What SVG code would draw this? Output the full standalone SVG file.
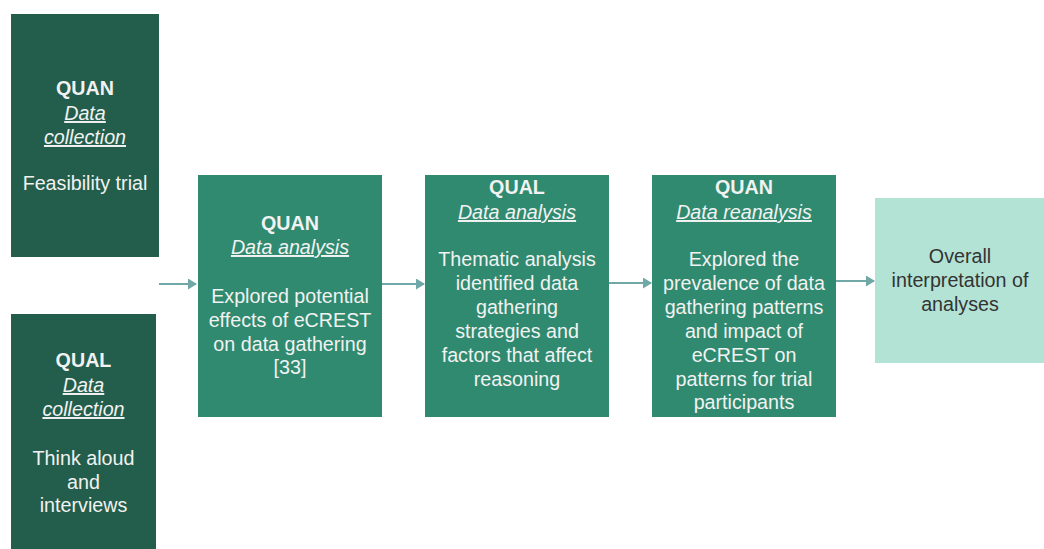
<svg xmlns="http://www.w3.org/2000/svg" width="1044" height="549" viewBox="0 0 1044 549">
<style>
.dark{fill:#225E4B}
.mid{fill:#2F8A6F}
.light{fill:#B3E3D5}
text{font-family:"Liberation Sans",Arial,sans-serif;font-size:19.7px;text-anchor:middle;fill:#F2F2F2}
.b{font-weight:bold}
.u{font-style:italic;text-decoration:underline}
.dk{fill:#333333}
.conn{stroke:#6FA8A6;stroke-width:2;fill:none}
</style>
<defs>
<marker id="ah" markerWidth="9" markerHeight="11" refX="8" refY="5.5" orient="auto" markerUnits="userSpaceOnUse">
<path d="M0,0 L9,5.5 L0,11 Z" fill="#6FA8A6"/>
</marker>
</defs>
<rect width="1044" height="549" fill="#FFFFFF"/>
<g id="connectors">
<line class="conn" x1="159" y1="284" x2="196" y2="284" marker-end="url(#ah)"/>
<line class="conn" x1="382" y1="284" x2="424" y2="284" marker-end="url(#ah)"/>
<line class="conn" x1="609" y1="283" x2="651" y2="283" marker-end="url(#ah)"/>
<line class="conn" x1="836" y1="281" x2="874" y2="281" marker-end="url(#ah)"/>
</g>
<g id="quan-collection">
<rect class="dark" x="11" y="14" width="148" height="243"/>
<text x="85" y="95" class="b">QUAN</text>
<text x="85" y="120" class="u">Data</text>
<text x="85" y="144" class="u">collection</text>
<text x="85" y="190">Feasibility trial</text>
</g>
<g id="qual-collection">
<rect class="dark" x="11" y="314" width="145" height="240"/>
<text x="83.5" y="367" class="b">QUAL</text>
<text x="83.5" y="392" class="u">Data</text>
<text x="83.5" y="416" class="u">collection</text>
<text x="83.5" y="465">Think aloud</text>
<text x="83.5" y="489">and</text>
<text x="83.5" y="512">interviews</text>
</g>
<g id="quan-analysis">
<rect class="mid" x="198" y="175" width="184" height="242"/>
<text x="290" y="230" class="b">QUAN</text>
<text x="290" y="254" class="u">Data analysis</text>
<text x="290" y="303">Explored potential</text>
<text x="290" y="327">effects of eCREST</text>
<text x="290" y="351">on data gathering</text>
<text x="290" y="374">[33]</text>
</g>
<g id="qual-analysis">
<rect class="mid" x="425" y="175" width="184" height="242"/>
<text x="517" y="194" class="b">QUAL</text>
<text x="517" y="219" class="u">Data analysis</text>
<text x="517" y="266">Thematic analysis</text>
<text x="517" y="290">identified data</text>
<text x="517" y="314">gathering</text>
<text x="517" y="338">strategies and</text>
<text x="517" y="362">factors that affect</text>
<text x="517" y="386">reasoning</text>
</g>
<g id="quan-reanalysis">
<rect class="mid" x="652" y="175" width="184" height="242"/>
<text x="744" y="194" class="b">QUAN</text>
<text x="744" y="219" class="u">Data reanalysis</text>
<text x="744" y="266">Explored the</text>
<text x="744" y="290">prevalence of data</text>
<text x="744" y="314">gathering patterns</text>
<text x="744" y="338">and impact of</text>
<text x="744" y="362">eCREST on</text>
<text x="744" y="386">patterns for trial</text>
<text x="744" y="409">participants</text>
</g>
<g id="interpretation">
<rect class="light" x="875" y="198" width="169" height="165"/>
<text x="960" y="263" class="dk">Overall</text>
<text x="960" y="287" class="dk">interpretation of</text>
<text x="960" y="311" class="dk">analyses</text>
</g>
</svg>
